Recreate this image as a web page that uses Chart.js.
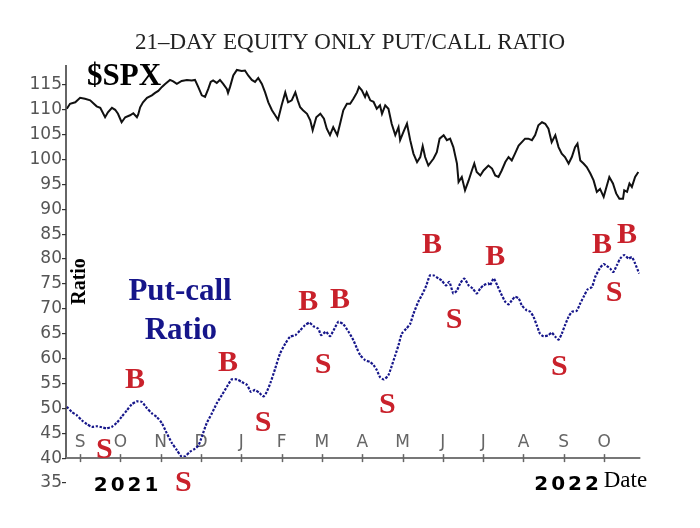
<!DOCTYPE html>
<html>
<head>
<meta charset="utf-8">
<script src="https://cdn.jsdelivr.net/npm/chart.js@4"></script>
<style>
  body { margin: 0; background: #fff; }
</style>
</head>
<body>
<canvas id="chart" width="700" height="528"></canvas>
<script>
// x values are months counted from the first "S" tick (Sep = 0)
const monthLabels = ['S', 'O', 'N', 'D', 'J', 'F', 'M', 'A', 'M', 'J', 'J', 'A', 'S', 'O'];
const yTickValues = [35, 40, 45, 50, 55, 60, 65, 70, 75, 80, 85, 90, 95, 100, 105, 110, 115];

const spxMonth = [-0.33,-0.25,-0.12,0.00,0.12,0.25,0.41,0.50,0.62,0.69,
  0.79,0.87,0.94,1.03,1.12,1.24,1.32,1.41,1.44,1.49,
  1.56,1.66,1.78,1.86,1.94,2.03,2.11,2.23,2.31,2.40,
  2.52,2.65,2.77,2.85,2.93,3.02,3.10,3.18,3.24,3.30,
  3.39,3.47,3.55,3.64,3.67,3.72,3.80,3.89,4.01,4.09,
  4.17,4.26,4.34,4.42,4.51,4.59,4.67,4.76,4.84,4.91,
  5.00,5.09,5.16,5.25,5.34,5.40,5.46,5.53,5.63,5.71,
  5.77,5.86,5.96,6.05,6.12,6.20,6.28,6.38,6.45,6.53,
  6.62,6.70,6.78,6.87,6.92,6.99,7.07,7.11,7.20,7.28,
  7.36,7.44,7.49,7.57,7.65,7.73,7.82,7.90,7.94,8.02,
  8.11,8.19,8.27,8.36,8.44,8.50,8.56,8.64,8.77,8.85,
  8.92,9.02,9.10,9.18,9.26,9.35,9.39,9.47,9.55,9.64,
  9.72,9.78,9.84,9.93,10.01,10.13,10.22,10.30,10.38,10.46,
  10.55,10.63,10.71,10.79,10.88,10.96,11.04,11.12,11.21,11.29,
  11.37,11.46,11.54,11.62,11.70,11.79,11.87,11.95,12.03,12.12,
  12.20,12.28,12.34,12.41,12.49,12.57,12.66,12.74,12.82,12.90,
  12.99,13.07,13.13,13.22,13.30,13.38,13.47,13.50,13.57,13.63,
  13.69,13.77,13.85];
const spxValue = [110.2,111.2,111.5,112.4,112.2,111.9,110.7,110.4,108.5,109.5,
  110.4,110.0,109.2,107.5,108.5,108.9,109.3,108.5,109.0,110.5,
  111.5,112.4,112.9,113.4,113.8,114.6,115.2,116.0,115.7,115.2,
  115.8,116.0,115.9,116.0,114.6,112.9,112.6,114.2,115.6,115.9,
  115.4,116.0,115.2,114.2,113.4,114.6,116.9,118.0,117.8,117.9,
  116.9,116.0,115.6,116.4,115.2,113.5,111.5,109.9,108.9,108.0,
  110.9,113.5,111.5,111.9,113.5,111.9,110.5,109.9,109.2,107.9,
  105.9,108.5,109.2,108.2,106.2,104.9,106.5,104.9,107.2,109.9,
  111.2,111.2,112.2,113.5,114.6,113.9,112.6,113.5,111.9,111.6,
  110.2,110.9,109.2,110.9,110.2,107.2,104.9,106.5,103.9,105.5,
  107.2,103.9,101.2,99.5,100.5,102.7,100.5,98.8,100.2,101.5,
  104.2,104.9,103.9,104.2,102.5,99.2,95.5,96.5,93.8,95.8,
  97.8,99.2,97.5,96.8,97.8,98.8,98.2,96.8,96.5,97.8,
  99.5,100.5,99.8,101.2,102.8,103.5,104.2,104.2,103.9,104.9,
  106.9,107.5,107.2,106.2,103.5,104.9,102.5,101.2,100.5,99.2,
  100.5,102.5,103.2,99.8,99.2,98.5,97.2,95.8,93.5,94.1,
  92.5,94.8,96.5,95.2,93.2,92.1,92.1,93.8,93.5,95.2,
  94.5,96.5,97.5];

const pcMonth = [-0.33,-0.21,-0.08,0.04,0.17,0.29,0.41,0.54,0.66,0.79,
  0.91,1.03,1.16,1.28,1.41,1.53,1.66,1.78,1.90,2.03,
  2.15,2.28,2.40,2.52,2.61,2.73,2.85,2.94,3.02,3.14,
  3.27,3.39,3.52,3.64,3.76,3.89,4.01,4.14,4.24,4.34,
  4.45,4.55,4.63,4.73,4.84,4.96,5.09,5.21,5.34,5.46,
  5.58,5.69,5.79,5.91,5.98,6.10,6.20,6.29,6.41,6.53,
  6.66,6.78,6.87,6.95,7.07,7.20,7.28,7.36,7.44,7.54,
  7.65,7.73,7.82,7.90,7.98,8.09,8.19,8.27,8.39,8.50,
  8.59,8.68,8.78,8.89,8.97,9.08,9.16,9.26,9.35,9.43,
  9.53,9.64,9.74,9.84,9.93,10.01,10.13,10.17,10.26,10.35,
  10.44,10.55,10.63,10.71,10.79,10.88,10.96,11.08,11.17,11.25,
  11.33,11.41,11.50,11.62,11.70,11.79,11.87,11.95,12.03,12.12,
  12.20,12.32,12.41,12.51,12.59,12.70,12.78,12.89,12.99,13.07,
  13.15,13.23,13.32,13.40,13.50,13.61,13.69,13.77,13.87];
const pcValue = [50.3,49.3,48.6,47.6,46.8,46.3,46.4,46.2,46.0,46.3,
  47.1,48.3,49.6,50.8,51.4,51.3,50.0,49.0,48.3,47.0,
  45.0,43.0,41.6,40.3,40.4,41.3,41.9,42.6,44.3,47.0,
  49.0,51.0,52.7,54.3,55.8,55.8,55.3,54.7,53.3,53.7,
  53.1,52.4,53.3,55.3,58.0,61.0,63.0,64.4,64.7,65.7,
  66.7,67.2,66.5,66.0,64.7,65.4,64.5,65.7,67.4,66.9,
  65.4,63.7,62.0,60.7,59.7,59.3,58.7,57.7,56.3,55.8,
  56.7,58.5,60.7,62.7,65.0,66.0,67.0,69.0,71.4,73.1,
  74.7,76.7,76.7,76.1,75.7,74.7,75.4,73.1,73.7,75.1,
  76.1,74.7,74.1,73.1,74.1,74.7,75.1,74.7,76.1,74.7,
  73.1,71.4,70.9,71.7,72.4,72.1,70.7,69.7,69.4,68.4,
  66.7,65.0,64.5,64.7,65.2,64.4,63.8,65.0,66.7,68.4,
  69.4,69.6,71.1,72.7,73.9,74.4,76.4,78.1,79.0,78.6,
  78.1,77.4,78.8,80.1,80.8,80.1,80.4,79.1,77.1];

// buy / sell signal letters
const signalText  = ['B', 'S', 'S', 'B', 'S', 'B', 'S', 'B', 'S', 'B', 'S', 'B', 'S', 'B', 'S', 'B'];
const signalMonth = [1.36, 0.60, 2.56, 3.67, 4.54, 5.66, 6.03, 6.45, 7.62, 8.73, 9.28, 10.30, 11.89, 12.95, 13.25, 13.57];
const signalValue = [55.7, 41.6, 35.0, 59.1, 47.0, 71.3, 58.7, 71.7, 50.6, 82.8, 67.7, 80.4, 58.3, 82.8, 73.1, 84.8];

const RED = '#c9212b';
const NAVY = '#16168a';
const X_AXIS_END = 13.9; // where the date axis line stops

function drawText(chart, str, m, v, font, color, angle, spacing) {
  const {ctx, scales: {x, y}} = chart;
  ctx.save();
  ctx.translate(x.getPixelForValue(m), y.getPixelForValue(v));
  if (angle) ctx.rotate(angle);
  ctx.font = font;
  ctx.fillStyle = color;
  ctx.textAlign = 'center';
  ctx.textBaseline = 'middle';
  if (spacing) ctx.letterSpacing = spacing + 'px';
  ctx.fillText(str, spacing ? spacing / 2 : 0, 0);
  ctx.restore();
}

const overlay = {
  id: 'overlay',
  afterDraw(chart) {
    const {ctx, chartArea, scales: {x, y}} = chart;
    const y40 = y.getPixelForValue(40);
    ctx.save();
    // y axis line stops at the 40 level where the date axis sits
    ctx.strokeStyle = '#333';
    ctx.lineWidth = 1.5;
    ctx.beginPath();
    ctx.moveTo(chartArea.left, chartArea.top);
    ctx.lineTo(chartArea.left, y40);
    ctx.stroke();
    // date axis line
    ctx.strokeStyle = '#777';
    ctx.lineWidth = 2;
    ctx.beginPath();
    ctx.moveTo(chartArea.left, y40);
    ctx.lineTo(x.getPixelForValue(X_AXIS_END), y40);
    ctx.stroke();
    // month ticks crossing the axis line
    ctx.strokeStyle = '#666';
    ctx.lineWidth = 1.5;
    monthLabels.forEach((_, i) => {
      const px = Math.round(x.getPixelForValue(i)) + 0.5;
      ctx.beginPath();
      ctx.moveTo(px, y40 - 4);
      ctx.lineTo(px, y40 + 4);
      ctx.stroke();
    });
    ctx.restore();

    drawText(chart, '$SPX', 1.09, 116.5, 'bold 31px "Liberation Serif"', '#000');
    drawText(chart, 'Put-call', 2.48, 73.3, 'bold 31px "Liberation Serif"', NAVY);
    drawText(chart, 'Ratio', 2.50, 65.5, 'bold 31px "Liberation Serif"', NAVY);
    drawText(chart, 'Ratio', 0.0, 75.5, 'bold 20px "Liberation Serif"', '#000', -Math.PI / 2);
    drawText(chart, '2021', 1.14, 34.5, 'bold 20px "DejaVu Sans"', '#000', 0, 3);
    drawText(chart, '2022', 12.07, 34.7, 'bold 20px "DejaVu Sans"', '#000', 0, 3);
    drawText(chart, 'Date', 13.53, 35.5, '23px "Liberation Serif"', '#000');

    signalText.forEach((t, i) => {
      drawText(chart, t, signalMonth[i], signalValue[i], 'bold 30px "Liberation Serif"', RED);
    });
  }
};

new Chart(document.getElementById('chart'), {
  type: 'line',
  data: {
    datasets: [
      {
        label: '$SPX',
        data: spxMonth.map((m, i) => ({x: m, y: spxValue[i]})),
        borderColor: '#111',
        borderWidth: 2,
        pointRadius: 0,
        tension: 0
      },
      {
        label: 'Put-call Ratio',
        data: pcMonth.map((m, i) => ({x: m, y: pcValue[i]})),
        borderColor: NAVY,
        borderWidth: 2.2,
        borderDash: [2.5, 1.5],
        pointRadius: 0,
        tension: 0.2
      }
    ]
  },
  options: {
    responsive: false,
    animation: false,
    events: [],
    layout: {padding: {left: 0, right: 0, top: 0, bottom: 45}},
    plugins: {
      legend: {display: false},
      tooltip: {enabled: false},
      title: {
        display: true,
        text: '21\u2013DAY EQUITY ONLY PUT/CALL RATIO',
        color: '#222',
        font: {family: 'Liberation Serif', size: 23, weight: 'normal'},
        padding: {top: 29, bottom: 8.4}
      }
    },
    scales: {
      x: {
        type: 'linear',
        min: -0.35,
        max: 15.38,
        position: {y: 40},
        afterBuildTicks: scale => {
          scale.ticks = monthLabels.map((_, i) => ({value: i}));
        },
        grid: {display: false},
        border: {display: false},
        ticks: {
          autoSkip: false,
          maxRotation: 0,
          padding: -34,
          color: '#666',
          font: {family: 'DejaVu Sans', size: 17},
          callback: v => monthLabels[v]
        }
      },
      y: {
        type: 'linear',
        min: 35,
        max: 119,
        afterFit: scale => { scale.width = 66; },
        afterBuildTicks: scale => {
          scale.ticks = yTickValues.map(v => ({value: v}));
        },
        grid: {drawOnChartArea: false, drawTicks: true, tickLength: 4, color: '#333', lineWidth: 1.2},
        border: {display: false},
        ticks: {
          padding: 0,
          color: '#555',
          font: {family: 'DejaVu Sans', size: 17},
          callback: v => String(v)
        }
      }
    }
  },
  plugins: [overlay]
});
</script>
</body>
</html>
